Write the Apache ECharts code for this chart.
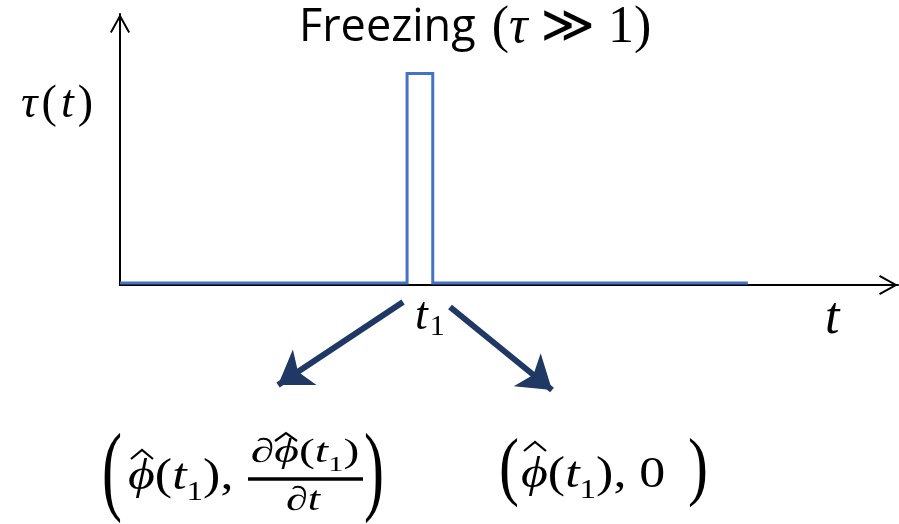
<!DOCTYPE html>
<html>
<head>
<meta charset="utf-8">
<script src="https://cdn.jsdelivr.net/npm/echarts@6/dist/echarts.min.js"></script>
<style>html,body{margin:0;padding:0;background:#fff}#c{width:899px;height:524px}</style>
</head>
<body>
<div id="c"></div>
<script>
// ---- data (abstract units: time 0..100, tau 0..100) ----
const timeValues = [0, 36.9, 36.9, 40.2, 40.2, 80.7];
const tauValues  = [0.7, 0.7, 78, 78, 0.7, 0.7];
const freezeTimes = [38.55];
const freezeLabels = ['t|1'];
const arrowStarts = [[36.38, -6.27], [42.42, -8.12]];
const arrowEnds   = [[20.31, -36.9], [55.53, -38.75]];
const titleText = 'Freezing';

const SERIF = '"Liberation Serif", "DejaVu Sans", serif';
const chevron = 'path://M10,0 L20,18 L18.3,19 L10,4 L1.7,19 L0,18 Z';

const chart = echarts.init(document.getElementById('c'), null, {renderer: 'canvas'});

function mathRich(size, lh, sub, subLh) {
  return {
    i: {font: 'italic ' + size + 'px ' + SERIF, fill: '#000', lineHeight: lh},
    r: {font: size + 'px ' + SERIF, fill: '#000', lineHeight: lh},
    s: {font: sub + 'px ' + SERIF, fill: '#000', lineHeight: subLh, verticalAlign: 'bottom'}
  };
}
function mtext(x, y, text, size, opt) {
  opt = opt || {};
  const lh = opt.lh || size;
  const sub = opt.sub || Math.round(size * 0.62);
  return {
    type: 'text', x: x, y: y,
    scaleX: opt.sx || 1, scaleY: opt.sy || 1,
    style: {
      text: text, font: size + 'px ' + SERIF, fill: '#000',
      textAlign: opt.align || 'left', textVerticalAlign: 'middle',
      rich: mathRich(size, lh, sub, sub)
    }
  };
}
function hat(cx, top, w, h) {
  return {type: 'polyline', shape: {points: [[cx - w / 2, top + h], [cx, top], [cx + w / 2, top + h]]},
    style: {stroke: '#000', lineWidth: 2.2, fill: null, lineJoin: 'miter'}};
}

const linePoints = timeValues.map((t, i) => [t, tauValues[i]]);
const arrowData = arrowStarts.map((s, i) => ({coords: [s, arrowEnds[i]]}));

const option = {
  backgroundColor: '#fff',
  animation: false,
  title: {
    text: '{a|' + titleText + '}{p|(}{c|τ}{b| ≫ 1)}',
    left: 299, top: 0, padding: 0,
    textStyle: {
      fontWeight: 'normal',
      rich: {
        a: {fontFamily: 'Open Sans', fontWeight: 'normal', fontSize: 45, color: '#000', lineHeight: 56},
        p: {fontFamily: SERIF, fontWeight: 'normal', fontSize: 52, color: '#000', lineHeight: 56, padding: [0, 0, 0, 16]},
        b: {fontFamily: SERIF, fontWeight: 'normal', fontSize: 52, color: '#000', lineHeight: 56},
        c: {fontFamily: SERIF, fontWeight: 'normal', fontStyle: 'italic', fontSize: 52, color: '#000', lineHeight: 56}
      }
    }
  },
  grid: {left: 120, right: 1, top: 14, bottom: 239},
  xAxis: {
    type: 'value', min: 0, max: 100,
    splitLine: {show: false}, axisTick: {show: false},
    axisLine: {lineStyle: {color: '#000', width: 2}, symbol: ['none', chevron], symbolSize: [20, 19], symbolOffset: [0, -9.5]},
    axisLabel: {
      customValues: freezeTimes,
      margin: 7,
      padding: [0, 0, 0, 20],
      formatter: function (v) {
        const k = freezeTimes.indexOf(v);
        const parts = (k >= 0 ? freezeLabels[k] : '|').split('|');
        return '{t|' + parts[0] + '}{s|' + parts[1] + '}';
      },
      rich: {
        t: {fontFamily: SERIF, fontStyle: 'italic', fontSize: 46, color: '#000', lineHeight: 50, padding: [0, 2, 0, 0]},
        s: {fontFamily: SERIF, fontSize: 30, color: '#000', lineHeight: 30, verticalAlign: 'bottom'}
      }
    },
    name: 't', nameLocation: 'end', nameGap: -73,
    nameTextStyle: {fontFamily: SERIF, fontStyle: 'italic', fontSize: 52, color: '#000', verticalAlign: 'top', padding: [8, 0, 0, 0]}
  },
  yAxis: {
    type: 'value', min: 0, max: 100,
    splitLine: {show: false}, axisTick: {show: false}, axisLabel: {show: false},
    axisLine: {lineStyle: {color: '#000', width: 2}, symbol: ['none', chevron], symbolSize: [20, 19], symbolOffset: [0, -9.5]},
    name: '{i|τ}{r|(}{i|t}{r|)}', nameLocation: 'end', nameGap: -114,
    nameTextStyle: {align: 'right', verticalAlign: 'bottom', padding: [0, 26, 0, 0], rich: {
      i: {fontFamily: SERIF, fontStyle: 'italic', fontSize: 46, color: '#000', padding: [0, 3, 0, 3]},
      r: {fontFamily: SERIF, fontSize: 46, color: '#000', padding: [0, 1, 0, 1]}
    }}
  },
  series: [
    {
      type: 'line', data: linePoints, showSymbol: false, symbol: 'none',
      lineStyle: {color: '#4472C4', width: 3, join: 'miter', cap: 'butt'},
      itemStyle: {color: '#4472C4'}, z: 3
    },
    {
      type: 'lines', coordinateSystem: 'cartesian2d', clip: false,
      data: arrowData,
      symbol: ['none', 'arrow'], symbolSize: 32,
      lineStyle: {color: '#203864', width: 6, opacity: 1, curveness: 0}
    }
  ],
  graphic: [
    // left formula
    mtext(102, 476, '(', 50, {sx: 1.2, sy: 2.0}),
    mtext(128, 477, '{i|ϕ}{r|(}{i|t}{s|1}{r|),}', 44, {lh: 60, sub: 28, sx: 1.18}),
    hat(142, 450, 22, 9),
    mtext(305, 453.5, '{i|∂ϕ}{r|(}{i|t}{s|1}{r|)}', 34, {align: 'center', sx: 1.4, lh: 46, sub: 22}),
    hat(286, 433, 22, 8),
    {type: 'line', shape: {x1: 248, y1: 479, x2: 363, y2: 479}, style: {stroke: '#000', lineWidth: 3.5}},
    mtext(303, 501.5, '{i|∂t}', 34, {align: 'center', sx: 1.3}),
    mtext(364, 476, ')', 50, {sx: 1.2, sy: 2.0}),
    // right formula
    mtext(499, 470.5, '(', 50, {sx: 1.2, sy: 1.54}),
    mtext(521, 475, '{i|ϕ}{r|(}{i|t}{s|1}{r|), 0}', 44, {lh: 60, sub: 28, sx: 1.18}),
    hat(535, 442, 22, 9),
    mtext(688, 470.5, ')', 50, {sx: 1.2, sy: 1.54})
  ]
};
chart.setOption(option);
</script>
</body>
</html>
